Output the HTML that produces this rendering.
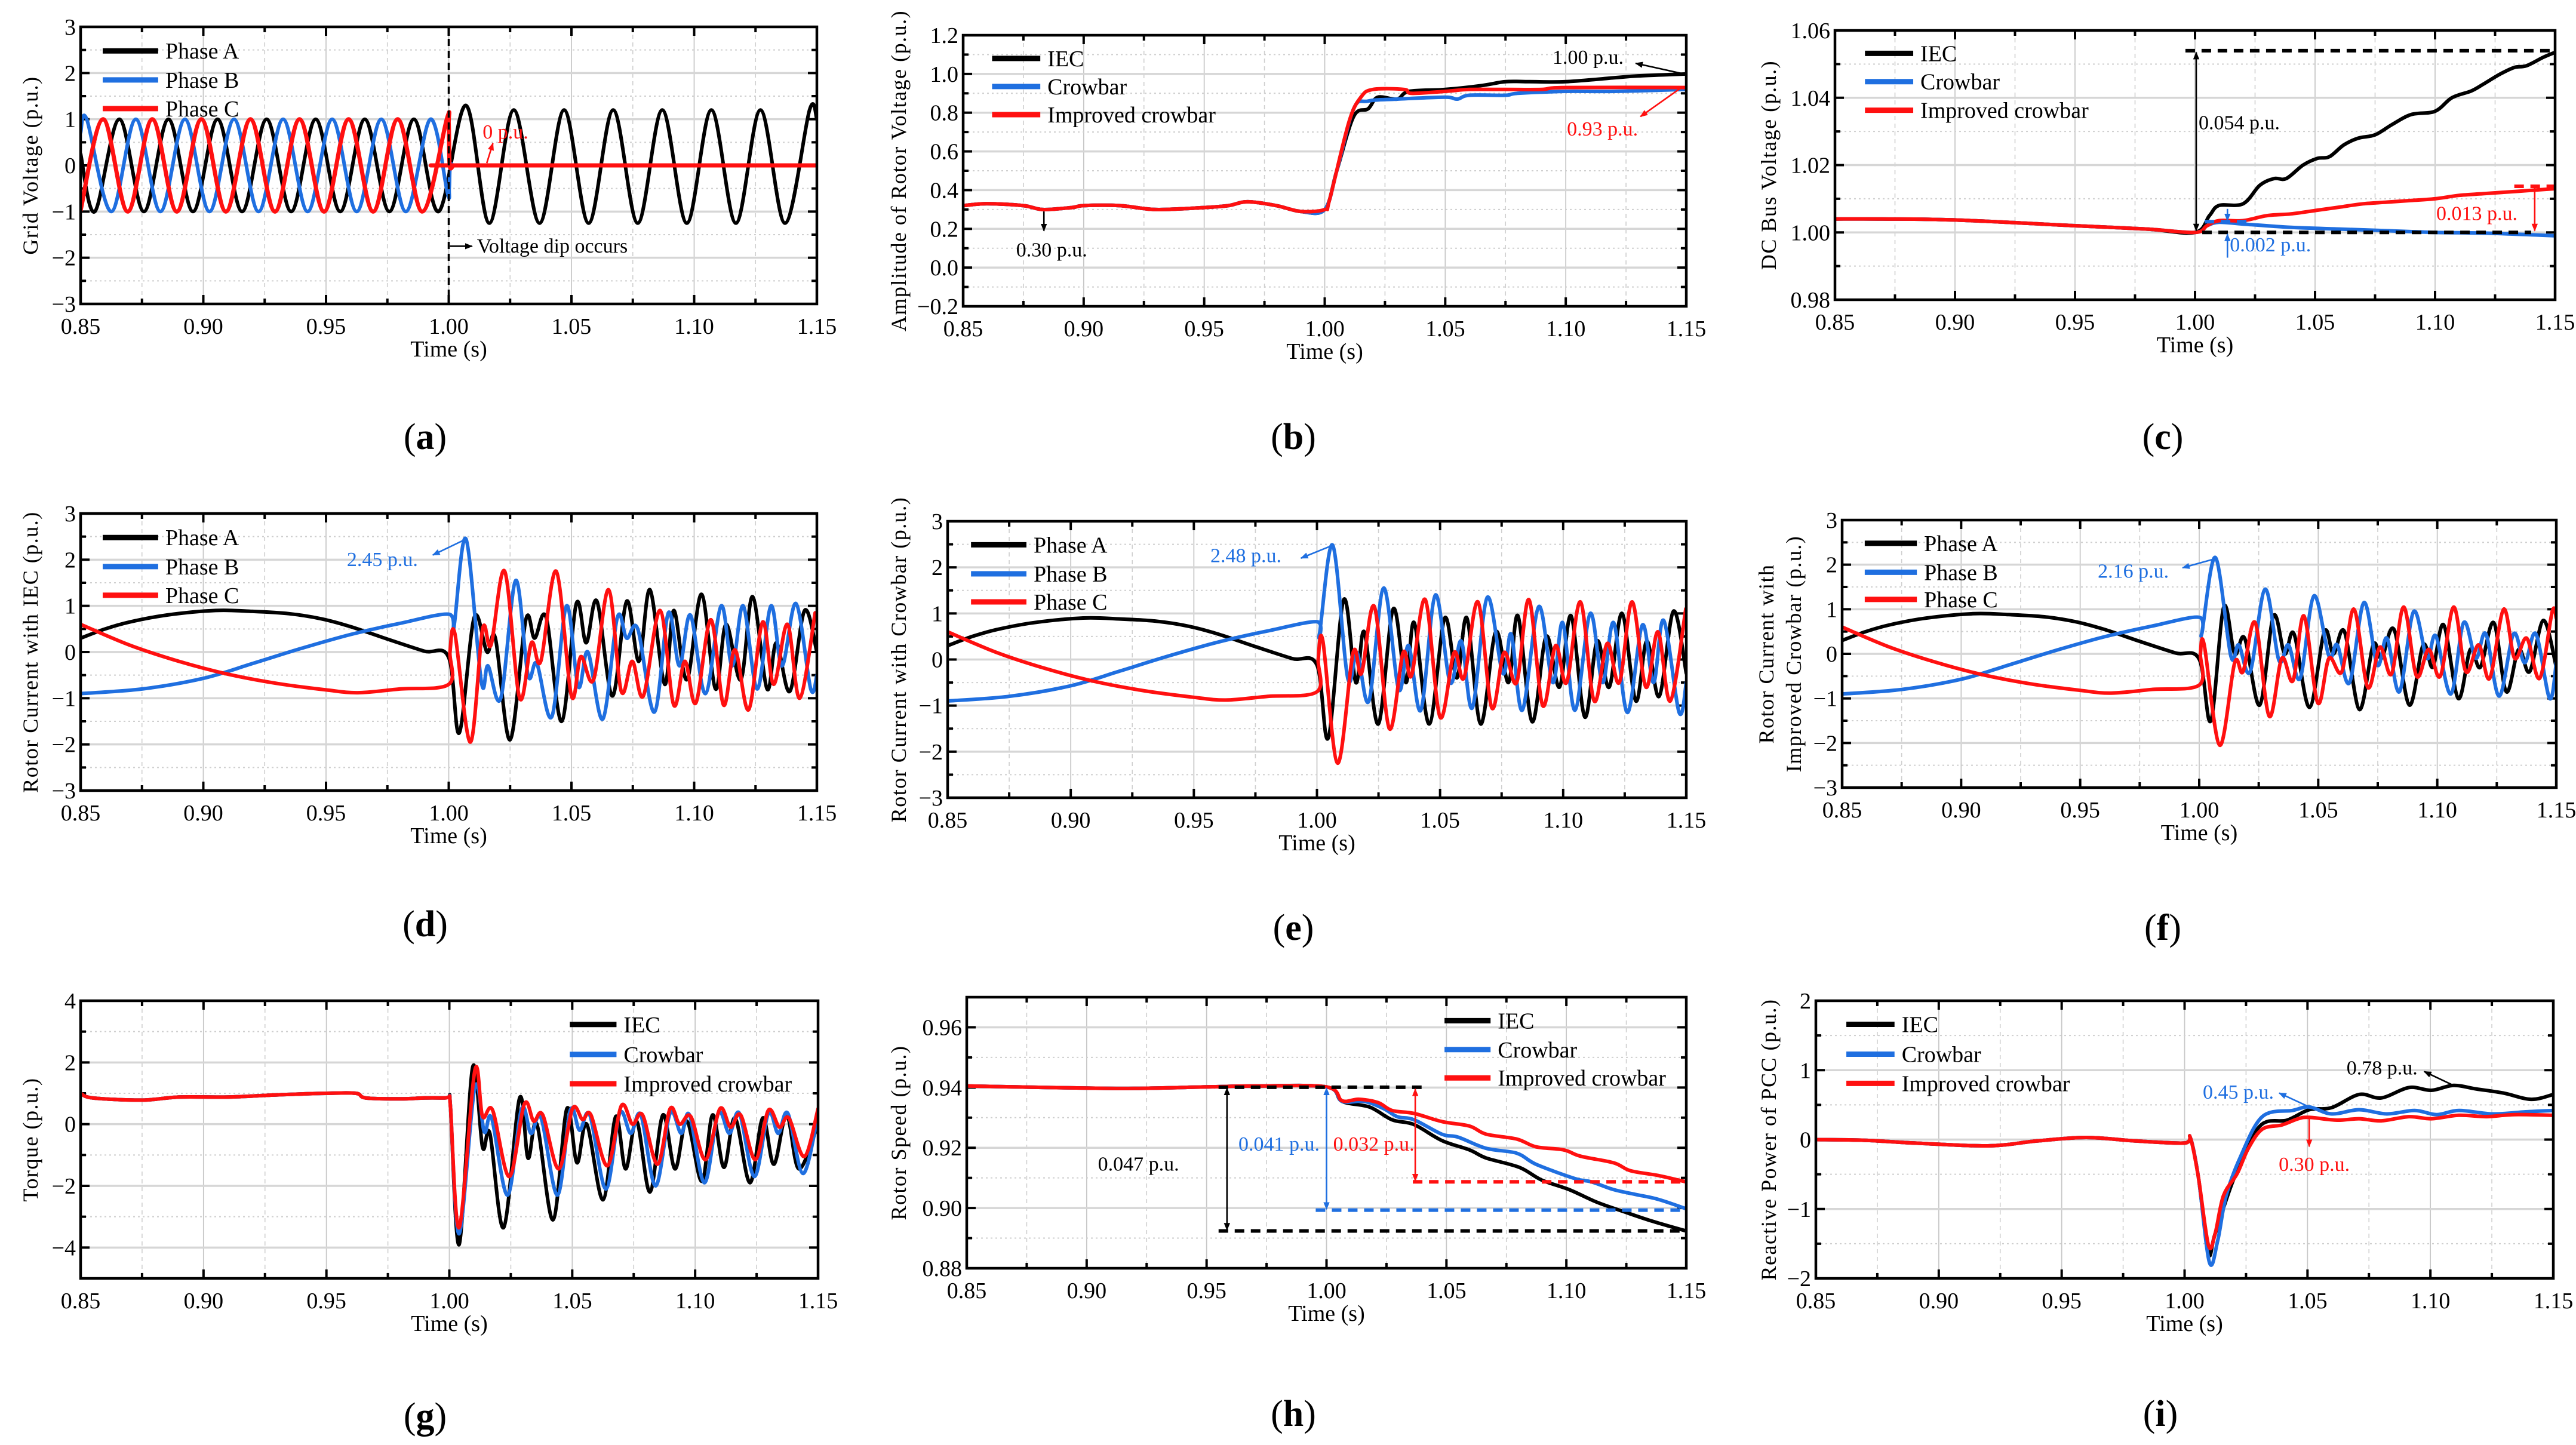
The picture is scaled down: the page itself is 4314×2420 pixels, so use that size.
<!DOCTYPE html>
<html><head><meta charset="utf-8">
<style>
html,body{margin:0;padding:0;background:#fff;}
svg{display:block;font-family:"Liberation Serif",serif;}
</style></head>
<body>
<svg id="fig" width="4314" height="2420" viewBox="0 0 4314 2420" xmlns="http://www.w3.org/2000/svg">
<defs>
<marker id="ah-k" viewBox="0 0 10 10" refX="9" refY="5" markerWidth="5" markerHeight="5" orient="auto-start-reverse"><path d="M0,1 L10,5 L0,9 z" fill="#000"/></marker>
<marker id="ah-b" viewBox="0 0 10 10" refX="9" refY="5" markerWidth="5" markerHeight="5" orient="auto-start-reverse"><path d="M0,1 L10,5 L0,9 z" fill="#1f6fe0"/></marker>
<marker id="ah-r" viewBox="0 0 10 10" refX="9" refY="5" markerWidth="5" markerHeight="5" orient="auto-start-reverse"><path d="M0,1 L10,5 L0,9 z" fill="#ff1010"/></marker>
</defs>
<rect x="0" y="0" width="4314" height="2420" fill="#fff"/>
</svg>
<script>
// ---------- data ----------
const xTickVals = [0.85,0.90,0.95,1.00,1.05,1.10,1.15];
const xTickLabels = ['0.85','0.90','0.95','1.00','1.05','1.10','1.15'];

// (a) grid voltage
const aPhaseA = [[0.85,0.25],[0.8558,-1],[0.8658,1],[0.8758,-1],[0.8858,1],[0.8958,-1],[0.9058,1],[0.9158,-1],[0.9258,1],[0.9358,-1],[0.9458,1],[0.9558,-1],[0.9658,1],[0.9758,-1],[0.9858,1],[0.9958,-1],[1.007,1.3],[1.0165,-1.25],[1.0265,1.2],[1.037,-1.25],[1.047,1.2],[1.057,-1.25],[1.067,1.2],[1.077,-1.25],[1.087,1.2],[1.097,-1.25],[1.107,1.2],[1.117,-1.25],[1.127,1.2],[1.137,-1.25],[1.147,1.2],[1.15,1.0]];
const aPhaseB = [[0.85,0.71],[0.8525,1],[0.8625,-1],[0.8725,1],[0.8825,-1],[0.8925,1],[0.9025,-1],[0.9125,1],[0.9225,-1],[0.9325,1],[0.9425,-1],[0.9525,1],[0.9625,-1],[0.9725,1],[0.9825,-1],[0.9925,1],[0.9995,-0.6],[1.0002,-0.5],[1.0006,0],[1.002,0],[1.004,0],[1.15,0]];
const aPhaseC = [[0.85,-0.97],[0.8592,1],[0.8692,-1],[0.8792,1],[0.8892,-1],[0.8992,1],[0.9092,-1],[0.9192,1],[0.9292,-1],[0.9392,1],[0.9492,-1],[0.9592,1],[0.9692,-1],[0.9792,1],[0.9892,-1],[0.9992,1],[1.0,0.9],[1.0004,0],[1.002,0],[1.004,0],[1.15,0]];

// (b) rotor voltage amplitude
const bPre = [[0.85,0.32],[0.86,0.33],[0.875,0.32],[0.883,0.30],[0.895,0.31],[0.90,0.32],[0.915,0.32],[0.93,0.30],[0.95,0.31],[0.96,0.32],[0.968,0.34],[0.98,0.32],[0.99,0.29],[1.0,0.30]];
const bIEC = [[1.005,0.5],[1.012,0.78],[1.018,0.82],[1.022,0.88],[1.03,0.87],[1.035,0.91],[1.05,0.92],[1.065,0.94],[1.075,0.96],[1.085,0.96],[1.10,0.96],[1.12,0.98],[1.13,0.99],[1.15,1.0]];
const bCrowbar = [[1.005,0.5],[1.012,0.82],[1.018,0.86],[1.03,0.87],[1.05,0.88],[1.055,0.87],[1.06,0.89],[1.075,0.89],[1.08,0.90],[1.10,0.91],[1.12,0.91],[1.15,0.92]];
const bImproved = [[1.002,0.35],[1.01,0.75],[1.015,0.88],[1.02,0.92],[1.033,0.92],[1.036,0.90],[1.05,0.91],[1.06,0.92],[1.075,0.92],[1.09,0.92],[1.10,0.93],[1.15,0.93]];

// (c) DC bus voltage
const cPre = [[0.85,1.004],[0.87,1.004],[0.90,1.0037],[0.95,1.002],[0.98,1.001],[1.0,1.0]];
const cIEC = [[1.006,1.005],[1.010,1.008],[1.02,1.0085],[1.027,1.014],[1.033,1.016],[1.038,1.016],[1.045,1.02],[1.051,1.022],[1.056,1.0225],[1.062,1.026],[1.068,1.028],[1.075,1.029],[1.082,1.032],[1.09,1.035],[1.10,1.036],[1.107,1.04],[1.115,1.042],[1.12,1.044],[1.127,1.047],[1.133,1.049],[1.138,1.0495],[1.145,1.052],[1.15,1.0535]];
const cCrowbar = [[1.005,1.002],[1.01,1.003],[1.02,1.0025],[1.04,1.0015],[1.06,1.001],[1.08,1.0005],[1.10,1.0],[1.12,0.9998],[1.14,0.9993],[1.15,0.999]];
const cImproved = [[1.005,1.002],[1.01,1.0035],[1.02,1.0035],[1.03,1.005],[1.04,1.0055],[1.05,1.0065],[1.06,1.0075],[1.07,1.0085],[1.08,1.009],[1.09,1.0095],[1.10,1.01],[1.11,1.011],[1.12,1.0115],[1.13,1.012],[1.14,1.0125],[1.15,1.013]];

// rotor current pre-fault (shared shape)
const prePhaseA = [[0.85,0.3],[0.86,0.5],[0.87,0.65],[0.885,0.8],[0.905,0.9],[0.92,0.88],[0.935,0.83],[0.948,0.72],[0.96,0.55],[0.975,0.28],[0.99,0.02],[1.0,-0.12]];
const prePhaseB = [[0.85,-0.9],[0.875,-0.8],[0.9,-0.57],[0.92,-0.25],[0.94,0.08],[0.96,0.38],[0.98,0.62],[1.0,0.82]];
const prePhaseC = [[0.85,0.6],[0.87,0.15],[0.89,-0.2],[0.91,-0.48],[0.93,-0.68],[0.95,-0.82],[0.963,-0.88],[0.98,-0.8],[1.0,-0.7]];

// (d) rotor current with IEC
const dPostA = [[1.0043,-1.75],[1.0104,0.75],[1.0156,0.0],[1.019,0.3],[1.025,-1.9],[1.0314,0.7],[1.035,0.3],[1.0397,0.75],[1.046,-1.5],[1.052,1.05],[1.056,0.2],[1.0604,1.1],[1.0667,-0.95],[1.0725,1.1],[1.0775,-0.2],[1.082,1.35],[1.088,-0.7],[1.0917,0.9],[1.097,-0.6],[1.103,1.25],[1.1087,-0.8],[1.113,0.6],[1.119,-0.6],[1.1238,1.2],[1.1297,-0.8],[1.1335,0.2],[1.139,-0.85],[1.145,0.9],[1.15,0.0]];
const dPostB = [[1.002,0.5],[1.007,2.45],[1.0133,-0.65],[1.016,-0.3],[1.0212,-1.0],[1.0273,1.55],[1.0323,-0.5],[1.0359,-0.25],[1.042,-1.4],[1.048,1.0],[1.0528,-0.75],[1.0567,0.0],[1.0628,-1.45],[1.0687,0.75],[1.0725,0.3],[1.077,0.5],[1.0838,-1.3],[1.0895,0.85],[1.094,-0.3],[1.0985,0.8],[1.1046,-0.9],[1.111,1.0],[1.1155,-0.3],[1.12,1.0],[1.1257,-0.8],[1.1313,1.0],[1.1358,-0.3],[1.1415,1.05],[1.1475,-0.8],[1.15,-0.5]];
const dPostC = [[1.0005,0.0],[1.0025,0.4],[1.0088,-1.95],[1.0138,0.5],[1.0172,0.15],[1.0228,1.75],[1.0289,-1.0],[1.0337,0.2],[1.0375,-0.2],[1.0438,1.75],[1.05,-0.95],[1.0538,-0.1],[1.059,-0.6],[1.0651,1.35],[1.0703,-0.85],[1.0748,-0.2],[1.0793,-0.95],[1.0861,0.9],[1.0917,-1.15],[1.0962,-0.2],[1.1007,-1.1],[1.1068,0.7],[1.112,-1.15],[1.1166,0.05],[1.1222,-1.25],[1.1279,0.65],[1.1324,-0.7],[1.138,0.6],[1.143,-1.0],[1.1493,0.85]];

// (e) rotor current with crowbar
const ePostA = [[1.0046,-1.7],[1.0109,1.3],[1.0158,-0.5],[1.0192,0.6],[1.0249,-1.4],[1.031,1.1],[1.0361,-0.5],[1.0395,0.8],[1.0456,-1.4],[1.0519,0.9],[1.0568,-0.4],[1.0609,0.9],[1.0665,-1.4],[1.0726,0.6],[1.0778,-0.5],[1.0816,0.95],[1.0874,-1.35],[1.0931,0.5],[1.0985,-0.6],[1.1032,0.95],[1.1088,-1.25],[1.1138,0.4],[1.1187,-0.6],[1.1239,1.0],[1.1295,-0.9],[1.134,0.4],[1.139,-0.8],[1.1448,1.05],[1.15,-0.3]];
const ePostB = [[1.001,0.55],[1.0064,2.48],[1.0125,-0.4],[1.0163,0.15],[1.0211,-0.9],[1.0271,1.55],[1.0332,-0.65],[1.0372,0.3],[1.0422,-1.1],[1.0481,1.4],[1.0541,-0.5],[1.0586,0.4],[1.0631,-1.05],[1.0692,1.35],[1.0755,-0.3],[1.0789,0.55],[1.0834,-1.1],[1.0901,1.15],[1.0958,-0.5],[1.0998,0.8],[1.1048,-1.1],[1.111,1.0],[1.116,-0.5],[1.1205,0.8],[1.1261,-1.15],[1.1322,0.75],[1.1367,-0.5],[1.1408,0.85],[1.1471,-1.15],[1.15,-0.5]];
const ePostC = [[1.0005,0.0],[1.0024,0.4],[1.0084,-2.25],[1.0147,0.15],[1.0181,-0.3],[1.0233,1.15],[1.0294,-1.5],[1.035,0.15],[1.0384,-0.35],[1.044,1.3],[1.05,-1.25],[1.0557,0.15],[1.0597,-0.4],[1.0654,1.25],[1.071,-1.05],[1.076,0.15],[1.0811,-0.5],[1.0861,1.3],[1.0917,-1.0],[1.0969,0.3],[1.1014,-0.5],[1.107,1.25],[1.1126,-0.9],[1.1179,0.35],[1.1228,-0.5],[1.128,1.25],[1.1336,-0.6],[1.1385,0.6],[1.1435,-0.9],[1.1498,1.1]];

// (f) rotor current with improved crowbar
const fPostA = [[1.0049,-1.5],[1.0103,1.05],[1.0149,0.0],[1.0191,0.35],[1.0254,-1.15],[1.0312,0.85],[1.0359,0.0],[1.0398,0.45],[1.0463,-1.2],[1.0526,0.5],[1.0564,0.0],[1.061,0.5],[1.0673,-1.25],[1.0731,0.2],[1.0766,-0.1],[1.0818,0.55],[1.0883,-1.15],[1.0941,0.2],[1.0981,-0.3],[1.1027,0.65],[1.1088,-1.0],[1.1139,0.1],[1.1181,-0.3],[1.1237,0.7],[1.129,-0.85],[1.1342,0.1],[1.1388,-0.4],[1.1446,0.75],[1.15,-0.3]];
const fPostB = [[1.001,0.45],[1.0068,2.16],[1.0133,-0.05],[1.0166,0.2],[1.0214,-0.4],[1.0277,1.45],[1.0335,-0.15],[1.0375,0.2],[1.0424,-0.55],[1.0482,1.3],[1.0545,-0.05],[1.058,0.2],[1.0631,-0.65],[1.0692,1.15],[1.0748,-0.25],[1.0789,0.35],[1.0841,-0.85],[1.0901,0.95],[1.0957,-0.1],[1.0994,0.4],[1.1057,-0.9],[1.1111,0.7],[1.1162,-0.1],[1.1204,0.45],[1.126,-0.95],[1.1321,0.45],[1.1367,-0.2],[1.1414,0.45],[1.1472,-1.0],[1.15,-0.2]];
const fPostC = [[1.0005,0.0],[1.0021,0.2],[1.0086,-2.05],[1.0149,-0.2],[1.0184,-0.4],[1.0235,0.7],[1.0294,-1.4],[1.0347,-0.1],[1.0394,-0.6],[1.044,0.85],[1.0498,-1.1],[1.0545,-0.1],[1.0599,-0.4],[1.065,1.0],[1.0708,-0.75],[1.0759,0.15],[1.0808,-0.45],[1.0859,1.05],[1.0913,-0.5],[1.0964,0.1],[1.1013,-0.5],[1.1069,1.05],[1.112,-0.4],[1.1174,0.2],[1.122,-0.55],[1.1279,1.0],[1.1325,-0.1],[1.1376,0.35],[1.143,-0.55],[1.1483,0.95],[1.15,0.8]];

// (g) torque
const gPre = [[0.85,1.0],[0.855,0.85],[0.875,0.78],[0.89,0.88],[0.91,0.88],[0.93,0.95],[0.95,1.0],[0.962,1.0],[0.966,0.85],[0.98,0.82],[0.99,0.85],[0.998,0.85],[1.0,0.85],[1.0005,0.5]];
const gIEC = [[1.004,-3.9],[1.0095,1.85],[1.0135,-0.75],[1.0165,-0.3],[1.0221,-3.35],[1.0286,0.85],[1.032,-1.1],[1.0356,0.0],[1.0422,-3.1],[1.0478,0.5],[1.0519,-1.25],[1.0559,0.0],[1.0625,-2.45],[1.0677,0.25],[1.0717,-1.45],[1.0762,0.1],[1.0816,-2.2],[1.0869,0.3],[1.0918,-1.45],[1.0966,0.1],[1.1027,-1.85],[1.1071,0.3],[1.1117,-1.4],[1.1162,0.2],[1.1223,-1.9],[1.1275,0.2],[1.132,-1.3],[1.1372,0.3],[1.1422,-1.45],[1.15,0.0]];
const gCrowbar = [[1.004,-3.55],[1.0104,1.2],[1.0142,-0.25],[1.0172,0.2],[1.0237,-2.3],[1.0294,0.5],[1.0332,-0.3],[1.0373,0.2],[1.044,-2.3],[1.0492,0.45],[1.053,-0.2],[1.0571,0.3],[1.0637,-2.1],[1.0693,0.35],[1.0738,-0.3],[1.0779,0.3],[1.0839,-2.0],[1.0898,0.35],[1.0943,-0.3],[1.0977,0.3],[1.1038,-1.9],[1.1094,0.35],[1.1139,-0.3],[1.118,0.35],[1.1241,-1.7],[1.1298,0.35],[1.1338,-0.3],[1.1377,0.35],[1.1439,-1.6],[1.15,0.3]];
const gImproved = [[1.004,-3.35],[1.0104,1.75],[1.0135,0.25],[1.0176,0.45],[1.0244,-1.7],[1.0305,0.65],[1.0343,0.1],[1.038,0.3],[1.0445,-1.45],[1.0501,0.5],[1.0542,0.15],[1.0576,0.3],[1.0643,-1.35],[1.07,0.6],[1.0745,0.0],[1.0786,0.3],[1.0847,-1.3],[1.0898,0.5],[1.0937,0.0],[1.0982,0.25],[1.1042,-1.15],[1.1101,0.5],[1.1144,-0.1],[1.1185,0.3],[1.1245,-1.15],[1.1298,0.45],[1.1343,-0.1],[1.1381,0.2],[1.1444,-1.05],[1.15,0.5]];

// (h) rotor speed
const hPre = [[0.85,0.9405],[0.87,0.9402],[0.90,0.9398],[0.92,0.9397],[0.95,0.9402],[0.97,0.9405],[1.0,0.9402]];
const hIEC = [[1.0065,0.9354],[1.018,0.9335],[1.0273,0.9293],[1.0365,0.9277],[1.0481,0.9224],[1.0596,0.9193],[1.0666,0.9166],[1.0804,0.9135],[1.0897,0.9093],[1.1012,0.9061],[1.1128,0.9019],[1.1243,0.8987],[1.1359,0.8956],[1.1498,0.8924]];
const hCrowbar = [[1.0065,0.9354],[1.0157,0.9354],[1.0238,0.933],[1.0296,0.9303],[1.0365,0.9293],[1.0481,0.9245],[1.055,0.9235],[1.0666,0.9198],[1.0793,0.9182],[1.0874,0.9145],[1.1035,0.9098],[1.1104,0.9087],[1.1197,0.9061],[1.1289,0.9045],[1.1382,0.9029],[1.1498,0.8998]];
const hImproved = [[1.0065,0.9356],[1.0134,0.9361],[1.0215,0.935],[1.0273,0.9324],[1.0365,0.9314],[1.0481,0.9287],[1.0596,0.9272],[1.0666,0.9245],[1.0793,0.9229],[1.0874,0.9203],[1.0989,0.9193],[1.1059,0.9172],[1.1197,0.915],[1.1267,0.9124],[1.1382,0.9108],[1.1498,0.9087]];

// (i) reactive power
const iPre = [[0.85,0.0],[0.87,-0.01],[0.89,-0.05],[0.92,-0.09],[0.94,-0.02],[0.96,0.03],[0.98,-0.02],[1.0,-0.05],[1.0023,0.03],[1.0056,-0.54]];
const iIEC = [[1.0097,-1.63],[1.0124,-1.36],[1.0203,-0.54],[1.0305,0.19],[1.0417,0.28],[1.0507,0.43],[1.0598,0.46],[1.071,0.65],[1.08,0.6],[1.0913,0.75],[1.1004,0.71],[1.1094,0.78],[1.1185,0.73],[1.1297,0.67],[1.141,0.58],[1.15,0.65]];
const iCrowbar = [[1.0101,-1.77],[1.0135,-1.45],[1.0169,-0.81],[1.0226,-0.26],[1.0316,0.33],[1.044,0.42],[1.0507,0.47],[1.0598,0.37],[1.071,0.43],[1.0823,0.37],[1.0936,0.42],[1.1026,0.36],[1.1116,0.42],[1.1252,0.37],[1.1387,0.4],[1.15,0.42]];
const iImproved = [[1.0097,-1.52],[1.0124,-1.36],[1.0158,-0.81],[1.0214,-0.49],[1.0259,-0.13],[1.0316,0.15],[1.0395,0.21],[1.0462,0.3],[1.0507,0.32],[1.062,0.28],[1.071,0.3],[1.08,0.27],[1.0913,0.33],[1.1004,0.3],[1.1116,0.35],[1.1229,0.33],[1.1342,0.36],[1.15,0.35]];

// ---------- drawing ----------
const NS = 'http://www.w3.org/2000/svg';
const svg = document.getElementById('fig');
const K = '#000', B = '#1f6fe0', R = '#ff1010';

function el(tag, attrs, parent, name, inter) {
  const e = document.createElementNS(NS, tag);
  for (const k in attrs) e.setAttribute(k, attrs[k]);
  
  
  (parent || svg).appendChild(e);
  return e;
}
function txt(parent, x, y, s, opts, name) {
  const a = Object.assign({x: x, y: y, 'font-size': 38, fill: '#000', 'font-family': '"Liberation Serif", serif'}, opts || {});
  const t = el('text', a, parent, name);
  t.textContent = s;
  return t;
}

function makePanel(p) {
  const g = el('g', {}, svg, 'panel-' + p.id);
  const sx = t => p.x0 + (t - 0.85) / 0.3 * (p.x1 - p.x0);
  const sy = v => p.y1 - (v - p.ymin) / (p.ymax - p.ymin) * (p.y1 - p.y0);
  for (let i = 1; i < 12; i++) {
    const t = 0.85 + i * 0.025;
    const x = sx(t);
    if (i % 2 === 1) el('line', {x1: x, x2: x, y1: p.y0, y2: p.y1, stroke: '#cfcfcf', 'stroke-width': 1.6, 'stroke-dasharray': '7 6'}, g, 'x-minor-grid');
    else el('line', {x1: x, x2: x, y1: p.y0, y2: p.y1, stroke: '#c8c8c8', 'stroke-width': 1.8}, g, 'x-major-grid');
  }
  const n = Math.round((p.ymax - p.ymin) / p.minor);
  for (let i = 1; i < n; i++) {
    const v = p.ymin + i * p.minor;
    const y = sy(v);
    const major = ((i - p.majorOffset) % p.majorEvery) === 0;
    if (major) el('line', {x1: p.x0, x2: p.x1, y1: y, y2: y, stroke: '#d6d6d6', 'stroke-width': 3.5}, g, 'y-major-grid');
    else el('line', {x1: p.x0, x2: p.x1, y1: y, y2: y, stroke: '#cfcfcf', 'stroke-width': 2, 'stroke-dasharray': '3 5'}, g, 'y-minor-grid');
  }
  for (let i = 1; i < 12; i++) {
    const x = sx(0.85 + i * 0.025);
    const L = i % 2 ? 9 : 15;
    el('line', {x1: x, x2: x, y1: p.y1, y2: p.y1 - L, stroke: '#000', 'stroke-width': 4}, g, 'x-tick');
    el('line', {x1: x, x2: x, y1: p.y0, y2: p.y0 + L, stroke: '#000', 'stroke-width': 4}, g, 'x-tick-top');
  }
  for (let i = 1; i < n; i++) {
    const y = sy(p.ymin + i * p.minor);
    const major = ((i - p.majorOffset) % p.majorEvery) === 0;
    const L = major ? 15 : 9;
    el('line', {x1: p.x0, x2: p.x0 + L, y1: y, y2: y, stroke: '#000', 'stroke-width': 4}, g, 'y-tick');
    el('line', {x1: p.x1, x2: p.x1 - L, y1: y, y2: y, stroke: '#000', 'stroke-width': 4}, g, 'y-tick-right');
  }
  xTickVals.forEach((t, i) => {
    txt(g, sx(t), p.y1 + 50, xTickLabels[i], {'text-anchor': 'middle'}, 'x-tick-label');
  });
  p.yTickVals.forEach((v, i) => {
    txt(g, p.x0 - 8, sy(v) + 13, p.yTickLabels[i], {'text-anchor': 'end'}, 'y-tick-label');
  });
  txt(g, (p.x0 + p.x1) / 2, p.y1 + 88, 'Time (s)', {'text-anchor': 'middle'}, 'x-axis-title');
  const cy = (p.y0 + p.y1) / 2;
  p.ytitle.forEach((s, i) => {
    const x = p.ytitleX[i];
    txt(g, x, cy, s, {'text-anchor': 'middle', 'dominant-baseline': 'central', 'font-size': 36, 'letter-spacing': 1.5, transform: 'rotate(-90 ' + x + ' ' + cy + ')'}, 'y-axis-title');
  });
  const lt = el('text', {x: p.lx, y: p.ly, 'font-size': 62, 'text-anchor': 'middle', 'font-family': '"Liberation Serif", serif'}, g, 'panel-label');
  lt.innerHTML = '(<tspan font-weight="bold">' + p.id + '</tspan>)';
  const plot = el('g', {}, g, 'plot-area');
  const clip = el('clipPath', {id: 'clip-' + p.id}, g, 'clip');
  el('rect', {x: p.x0, y: p.y0, width: p.x1 - p.x0, height: p.y1 - p.y0}, clip, 'clip-rect');
  plot.setAttribute('clip-path', 'url(#clip-' + p.id + ')');
  return {g, plot, sx, sy, p};
}
function frame(P) {
  const p = P.p;
  el('rect', {x: p.x0, y: p.y0, width: p.x1 - p.x0, height: p.y1 - p.y0, fill: 'none', stroke: '#000', 'stroke-width': 4.5}, P.g, 'plot-frame');
}
function curve(P, pts, color, w, name) {
  const q = pts.map(d => [P.sx(d[0]), P.sy(d[1])]);
  let d = 'M' + q[0][0].toFixed(1) + ',' + q[0][1].toFixed(1);
  for (let i = 0; i < q.length - 1; i++) {
    const p0 = q[Math.max(i - 1, 0)], p1 = q[i], p2 = q[i + 1], p3 = q[Math.min(i + 2, q.length - 1)];
    const c1 = [p1[0] + (p2[0] - p0[0]) / 6, p1[1] + (p2[1] - p0[1]) / 6];
    const c2 = [p2[0] - (p3[0] - p1[0]) / 6, p2[1] - (p3[1] - p1[1]) / 6];
    d += 'C' + c1[0].toFixed(1) + ',' + c1[1].toFixed(1) + ' ' + c2[0].toFixed(1) + ',' + c2[1].toFixed(1) + ' ' + p2[0].toFixed(1) + ',' + p2[1].toFixed(1);
  }
  el('path', {d: d, fill: 'none', stroke: color, 'stroke-width': w || 6, 'stroke-linejoin': 'round', 'stroke-linecap': 'round'}, P.plot, name);
}
function legend(P, items, t0, t1, vs) {
  const lg = el('g', {}, P.g, 'legend');
  items.forEach((it, i) => {
    const y = P.sy(vs[i]);
    el('line', {x1: P.sx(t0), x2: P.sx(t1), y1: y, y2: y, stroke: it[1], 'stroke-width': 9}, lg, 'legend-swatch');
    txt(lg, P.sx(t1) + 12, y + 13, it[0], {'font-size': 38}, 'legend-entry');
  });
}
function note(P, t, v, s, color, anchor) {
  txt(P.g, P.sx(t), P.sy(v), s, {fill: color, 'font-size': 34, 'text-anchor': anchor || 'start', 'dominant-baseline': 'central'}, 'annotation');
}
function arrow(P, t1, v1, t2, v2, color, both) {
  const m = color === K ? 'ah-k' : color === B ? 'ah-b' : 'ah-r';
  const a = {x1: P.sx(t1), y1: P.sy(v1), x2: P.sx(t2), y2: P.sy(v2), stroke: color, 'stroke-width': 2.6, 'marker-end': 'url(#' + m + ')'};
  if (both) a['marker-start'] = 'url(#' + m + ')';
  el('line', a, P.g, 'annotation-arrow');
}
function dash(P, t1, t2, v, color) {
  el('line', {x1: P.sx(t1), x2: P.sx(t2), y1: P.sy(v), y2: P.sy(v), stroke: color, 'stroke-width': 6, 'stroke-dasharray': '16 11'}, P.g, 'reference-dash');
}
const lgPhase = [['Phase A', K], ['Phase B', B], ['Phase C', R]];
const lgCase = [['IEC', K], ['Crowbar', B], ['Improved crowbar', R]];
const pm = [-3,-2,-1,0,1,2,3], pmL = ['\u22123','\u22122','\u22121','0','1','2','3'];

// (a)
let P = makePanel({id:'a', x0:135, x1:1368, y0:45, y1:509, ymin:-3, ymax:3, minor:0.5, majorEvery:2, majorOffset:0, yTickVals:pm, yTickLabels:pmL, ytitle:['Grid Voltage (p.u.)'], ytitleX:[51], lx:712, ly:752});
curve(P, aPhaseA, K, 6, 'series-phase-a');
curve(P, aPhaseB, B, 6, 'series-phase-b');
curve(P, aPhaseC, R, 7, 'series-phase-c');
el('line', {x1: P.sx(1.0), x2: P.sx(1.0), y1: 45, y2: 509, stroke: '#000', 'stroke-width': 3.5, 'stroke-dasharray': '12 8'}, P.g, 'dip-marker');
arrow(P, 1.0005, -1.75, 1.0095, -1.75, K);
note(P, 1.0115, -1.75, 'Voltage dip occurs', K);
arrow(P, 1.0155, 0.05, 1.018, 0.48, R);
note(P, 1.0138, 0.72, '0 p.u.', R);
legend(P, lgPhase, 0.859, 0.8816, [2.48, 1.85, 1.23]);
frame(P);

// (b)
P = makePanel({id:'b', x0:1613, x1:2824, y0:59, y1:513, ymin:-0.2, ymax:1.2, minor:0.1, majorEvery:2, majorOffset:0, yTickVals:[-0.2,0,0.2,0.4,0.6,0.8,1.0,1.2], yTickLabels:['\u22120.2','0.0','0.2','0.4','0.6','0.8','1.0','1.2'], ytitle:['Amplitude of Rotor Voltage (p.u.)'], ytitleX:[1505], lx:2166, ly:752});
curve(P, bPre.concat(bIEC), K, 6, 'series-iec');
curve(P, bPre.concat(bCrowbar), B, 6, 'series-crowbar');
curve(P, bPre.concat(bImproved), R, 6, 'series-improved-crowbar');
arrow(P, 1.149, 1.0, 1.129, 1.055, K);
note(P, 1.0945, 1.085, '1.00 p.u.', K);
arrow(P, 1.148, 0.93, 1.131, 0.78, R);
note(P, 1.1005, 0.715, '0.93 p.u.', R);
arrow(P, 0.8835, 0.29, 0.8835, 0.19, K);
note(P, 0.872, 0.09, '0.30 p.u.', K);
legend(P, lgCase, 0.862, 0.882, [1.08, 0.935, 0.79]);
frame(P);

// (c)
P = makePanel({id:'c', x0:3073, x1:4279, y0:51, y1:502, ymin:0.98, ymax:1.06, minor:0.01, majorEvery:2, majorOffset:0, yTickVals:[0.98,1.0,1.02,1.04,1.06], yTickLabels:['0.98','1.00','1.02','1.04','1.06'], ytitle:['DC Bus Voltage (p.u.)'], ytitleX:[2962], lx:3622, ly:752});
curve(P, cPre.concat(cIEC), K, 6, 'series-iec');
curve(P, cPre.concat(cCrowbar), B, 6, 'series-crowbar');
curve(P, cPre.concat(cImproved), R, 6, 'series-improved-crowbar');
dash(P, 0.996, 1.15, 1.054, K);
dash(P, 1.003, 1.14, 1.0, K);
arrow(P, 1.0005, 1.0005, 1.0005, 1.0535, K, true);
note(P, 1.0015, 1.0325, '0.054 p.u.', K);
dash(P, 1.133, 1.15, 1.0137, R);
arrow(P, 1.1415, 1.0135, 1.1415, 1.0005, R);
note(P, 1.1005, 1.0055, '0.013 p.u.', R);
dash(P, 1.004, 1.022, 1.0032, B);
arrow(P, 1.0135, 1.007, 1.0135, 1.0035, B);
arrow(P, 1.0135, 0.9925, 1.0135, 0.9995, B);
note(P, 1.0145, 0.9962, '0.002 p.u.', B);
legend(P, lgCase, 0.8625, 0.8826, [1.0532, 1.0448, 1.0363]);
frame(P);

// (d)
P = makePanel({id:'d', x0:135, x1:1368, y0:860, y1:1324, ymin:-3, ymax:3, minor:0.5, majorEvery:2, majorOffset:0, yTickVals:pm, yTickLabels:pmL, ytitle:['Rotor Current with IEC (p.u.)'], ytitleX:[51], lx:712, ly:1568});
curve(P, prePhaseA.concat(dPostA), K, 6, 'series-phase-a');
curve(P, prePhaseB.concat(dPostB), B, 6, 'series-phase-b');
curve(P, prePhaseC.concat(dPostC), R, 6, 'series-phase-c');
arrow(P, 1.006, 2.42, 0.9935, 2.1, B);
note(P, 0.9585, 2.0, '2.45 p.u.', B);
legend(P, lgPhase, 0.859, 0.8816, [2.48, 1.85, 1.23]);
frame(P);

// (e)
P = makePanel({id:'e', x0:1587, x1:2824, y0:873, y1:1336, ymin:-3, ymax:3, minor:0.5, majorEvery:2, majorOffset:0, yTickVals:pm, yTickLabels:pmL, ytitle:['Rotor Current with Crowbar (p.u.)'], ytitleX:[1505], lx:2166, ly:1574});
curve(P, prePhaseA.concat(ePostA), K, 6, 'series-phase-a');
curve(P, prePhaseB.concat(ePostB), B, 6, 'series-phase-b');
curve(P, prePhaseC.concat(ePostC), R, 6, 'series-phase-c');
arrow(P, 1.0055, 2.46, 0.9935, 2.2, B);
note(P, 0.9567, 2.25, '2.48 p.u.', B);
legend(P, lgPhase, 0.8595, 0.882, [2.49, 1.86, 1.25]);
frame(P);

// (f)
P = makePanel({id:'f', x0:3085, x1:4281, y0:871, y1:1319, ymin:-3, ymax:3, minor:0.5, majorEvery:2, majorOffset:0, yTickVals:pm, yTickLabels:pmL, ytitle:['Rotor Current with', 'Improved Crowbar (p.u.)'], ytitleX:[2958, 3004], lx:3622, ly:1574});
curve(P, prePhaseA.concat(fPostA), K, 6, 'series-phase-a');
curve(P, prePhaseB.concat(fPostB), B, 6, 'series-phase-b');
curve(P, prePhaseC.concat(fPostC), R, 6, 'series-phase-c');
arrow(P, 1.0065, 2.13, 0.993, 1.93, B);
note(P, 0.9574, 1.85, '2.16 p.u.', B);
legend(P, lgPhase, 0.8595, 0.8814, [2.48, 1.83, 1.22]);
frame(P);

// (g)
P = makePanel({id:'g', x0:135, x1:1370, y0:1676, y1:2141, ymin:-5, ymax:4, minor:1, majorEvery:2, majorOffset:1, yTickVals:[-4,-2,0,2,4], yTickLabels:['\u22124','\u22122','0','2','4'], ytitle:['Torque (p.u.)'], ytitleX:[51], lx:712, ly:2392});
curve(P, gPre.concat(gIEC), K, 6, 'series-iec');
curve(P, gPre.concat(gCrowbar), B, 6, 'series-crowbar');
curve(P, gPre.concat(gImproved), R, 6, 'series-improved-crowbar');
legend(P, lgCase, 1.049, 1.068, [3.23, 2.26, 1.31]);
frame(P);

// (h)
P = makePanel({id:'h', x0:1619, x1:2824, y0:1670, y1:2124, ymin:0.88, ymax:0.97, minor:0.01, majorEvery:2, majorOffset:0, yTickVals:[0.88,0.90,0.92,0.94,0.96], yTickLabels:['0.88','0.90','0.92','0.94','0.96'], ytitle:['Rotor Speed (p.u.)'], ytitleX:[1505], lx:2166, ly:2388});
curve(P, hPre.concat(hIEC), K, 6, 'series-iec');
curve(P, hPre.concat(hCrowbar), B, 6, 'series-crowbar');
curve(P, hPre.concat(hImproved), R, 6, 'series-improved-crowbar');
dash(P, 0.955, 1.04, 0.9401, K);
dash(P, 0.955, 1.15, 0.8924, K);
arrow(P, 0.9585, 0.9398, 0.9585, 0.8927, K, true);
note(P, 0.9216, 0.9145, '0.047 p.u.', K, 'middle');
dash(P, 0.9955, 1.15, 0.8993, B);
arrow(P, 1.0, 0.9398, 1.0, 0.8996, B, true);
note(P, 0.9802, 0.9211, '0.041 p.u.', B, 'middle');
dash(P, 1.036, 1.15, 0.9087, R);
arrow(P, 1.037, 0.9395, 1.037, 0.909, R, true);
note(P, 1.0197, 0.9211, '0.032 p.u.', R, 'middle');
legend(P, lgCase, 1.0492, 1.0684, [0.9622, 0.9526, 0.9432]);
frame(P);

// (i)
P = makePanel({id:'i', x0:3041, x1:4276, y0:1676, y1:2141, ymin:-2, ymax:2, minor:0.5, majorEvery:2, majorOffset:0, yTickVals:[-2,-1,0,1,2], yTickLabels:['\u22122','\u22121','0','1','2'], ytitle:['Reactive Power of PCC (p.u.)'], ytitleX:[2962], lx:3618, ly:2388});
curve(P, iPre.concat(iIEC), K, 6, 'series-iec');
curve(P, iPre.concat(iCrowbar), B, 6, 'series-crowbar');
curve(P, iPre.concat(iImproved), R, 6, 'series-improved-crowbar');
arrow(P, 1.1094, 0.78, 1.0975, 0.98, K);
note(P, 1.0659, 1.03, '0.78 p.u.', K);
arrow(P, 1.0507, 0.47, 1.0385, 0.67, B);
note(P, 1.0074, 0.68, '0.45 p.u.', B);
arrow(P, 1.0507, 0.3, 1.0507, -0.1, R);
note(P, 1.0383, -0.36, '0.30 p.u.', R);
legend(P, lgCase, 0.8624, 0.882, [1.66, 1.23, 0.81]);
frame(P);
</script>
</body></html>
